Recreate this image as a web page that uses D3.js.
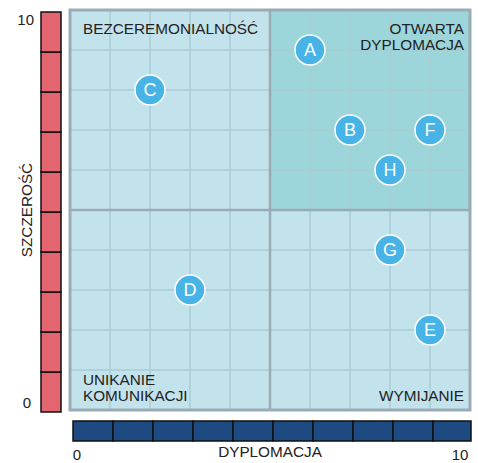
<!DOCTYPE html>
<html>
<head>
<meta charset="utf-8">
<script src="https://cdn.jsdelivr.net/npm/d3@7"></script>
<style>
  body { margin: 0; background: #fff; }
  text { font-family: "Liberation Sans", Arial, sans-serif; fill: #222; }
</style>
</head>
<body>
<div id="chart"></div>
<script>
// data
var labels = ["A", "B", "C", "D", "E", "F", "G", "H"];
var dyplomacja = [6, 7, 2, 3, 9, 9, 8, 8];
var szczerosc = [9, 7, 8, 3, 2, 7, 4, 6];
var quadrantNames = [
    { text: ["BEZCEREMONIALNOŚĆ"], pos: "tl" },
    { text: ["OTWARTA", "DYPLOMACJA"], pos: "tr" },
    { text: ["UNIKANIE", "KOMUNIKACJI"], pos: "bl" },
    { text: ["WYMIJANIE"], pos: "br" }
];
var cells = d3.range(10);

var W = 478, H = 463;
var plot = { left: 70, top: 10, right: 470, bottom: 410 };

var svg = d3.select("#chart")
    .append("svg")
    .attr("width", W)
    .attr("height", H);

var x = d3.scaleLinear().domain([0, 10]).range([plot.left, plot.right]);
var y = d3.scaleLinear().domain([0, 10]).range([plot.bottom, plot.top]);

// background quadrants
svg.append("rect")
    .attr("x", x(0)).attr("y", y(10))
    .attr("width", x(10) - x(0)).attr("height", y(0) - y(10))
    .attr("fill", "#c3e3ec");
svg.append("rect")
    .attr("x", x(5)).attr("y", y(10))
    .attr("width", x(10) - x(5)).attr("height", y(5) - y(10))
    .attr("fill", "#9cd6da");

// grid
svg.append("g").selectAll("line.v")
    .data(d3.range(1, 10))
    .enter().append("line")
    .attr("x1", d => x(d)).attr("x2", d => x(d))
    .attr("y1", y(0)).attr("y2", y(10))
    .attr("stroke", "#a9cbd4").attr("stroke-width", 1.5);
svg.append("g").selectAll("line.h")
    .data(d3.range(1, 10))
    .enter().append("line")
    .attr("y1", d => y(d)).attr("y2", d => y(d))
    .attr("x1", x(0)).attr("x2", x(10))
    .attr("stroke", "#a9cbd4").attr("stroke-width", 1.5);

// quadrant dividers
svg.append("line")
    .attr("x1", x(5)).attr("x2", x(5)).attr("y1", y(0)).attr("y2", y(10))
    .attr("stroke", "#9aabb5").attr("stroke-width", 2.5);
svg.append("line")
    .attr("y1", y(5)).attr("y2", y(5)).attr("x1", x(0)).attr("x2", x(10))
    .attr("stroke", "#9aabb5").attr("stroke-width", 2.5);

// frame
svg.append("rect")
    .attr("x", x(0)).attr("y", y(10))
    .attr("width", x(10) - x(0)).attr("height", y(0) - y(10))
    .attr("fill", "none")
    .attr("stroke", "#9aabb5").attr("stroke-width", 3);

// quadrant labels
quadrantNames.forEach(function(q) {
    var right = q.pos[1] == "r";
    var top = q.pos[0] == "t";
    var tx = right ? x(10) - 6 : x(0) + 13;
    var t = svg.append("text")
        .attr("text-anchor", right ? "end" : "start")
        .style("font-size", "15.3px");
    q.text.forEach(function(line, i) {
        var ty = top ? y(10) + 24 + i * 16 : y(0) - 9 - (q.text.length - 1 - i) * 16;
        t.append("tspan").attr("x", tx).attr("y", ty).text(line);
    });
});

// red vertical bar
svg.append("g").selectAll("rect")
    .data(cells)
    .enter().append("rect")
    .attr("x", 41)
    .attr("y", d => y(d + 1) + 2)
    .attr("width", 20)
    .attr("height", d => y(d) - y(d + 1))
    .attr("fill", "#e2656f")
    .attr("stroke", "#111").attr("stroke-width", 1.5);

// blue horizontal bar
svg.append("g").selectAll("rect")
    .data(cells)
    .enter().append("rect")
    .attr("x", d => x(d) + 3)
    .attr("y", 421)
    .attr("width", d => x(d + 1) - x(d) - (d == 9 ? 2 : 0))
    .attr("height", 20)
    .attr("fill", "#1d4a80")
    .attr("stroke", "#111").attr("stroke-width", 1.5);

// axis texts
svg.append("text").attr("x", 34).attr("y", 25).attr("text-anchor", "end")
    .style("font-size", "15px").text("10");
svg.append("text").attr("x", 31).attr("y", 408).attr("text-anchor", "end")
    .style("font-size", "15px").text("0");
svg.append("text").attr("x", 77).attr("y", 460).attr("text-anchor", "middle")
    .style("font-size", "15px").text("0");
svg.append("text").attr("x", 460).attr("y", 460).attr("text-anchor", "middle")
    .style("font-size", "15px").text("10");
svg.append("text").attr("x", 270).attr("y", 457).attr("text-anchor", "middle")
    .style("font-size", "15.3px").text("DYPLOMACJA");
svg.append("text")
    .attr("transform", "translate(32," + 210 + ")rotate(-90)")
    .attr("text-anchor", "middle")
    .style("font-size", "15.3px").text("SZCZEROŚĆ");

// points
var pts = svg.append("g").selectAll("g")
    .data(labels)
    .enter().append("g")
    .attr("transform", (d, i) => "translate(" + x(dyplomacja[i]) + "," + y(szczerosc[i]) + ")");
pts.append("circle")
    .attr("r", 15)
    .attr("fill", "#47b3e6")
    .attr("stroke", "#fff").attr("stroke-width", 1.5);
pts.append("text")
    .attr("text-anchor", "middle")
    .attr("dy", "0.36em")
    .style("fill", "#fff")
    .style("font-size", "18px")
    .text(d => d);
</script>
</body>
</html>
